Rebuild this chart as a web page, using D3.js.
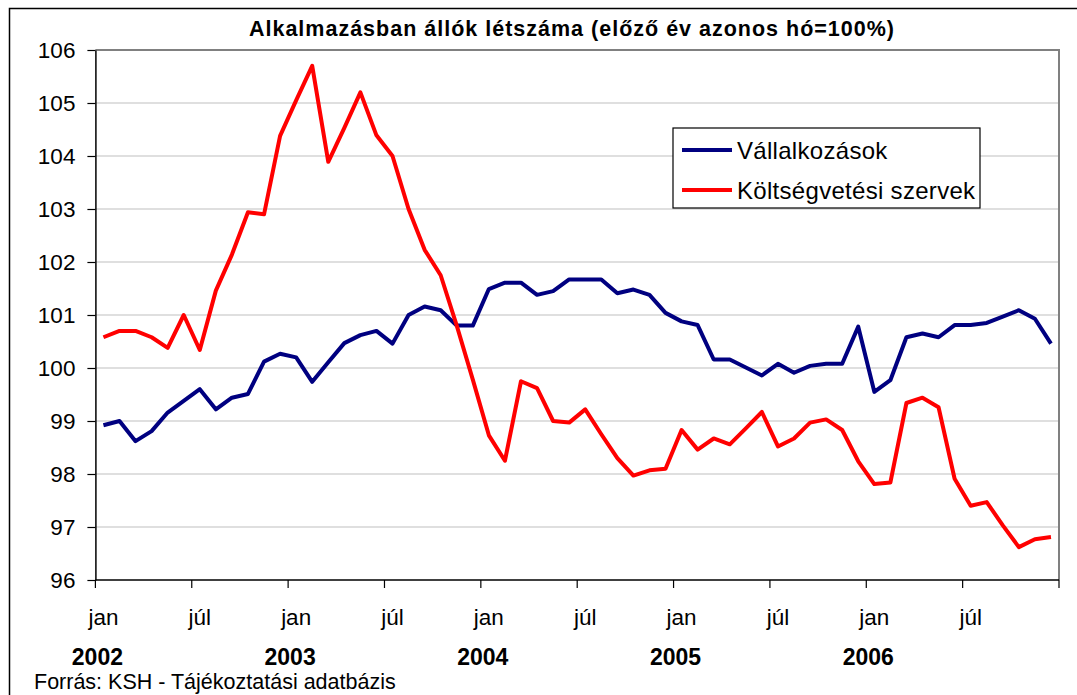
<!DOCTYPE html>
<html>
<head>
<meta charset="utf-8">
<script src="https://cdn.jsdelivr.net/npm/d3@7"></script>
<style>
  body { margin: 0; background: #fff; }
  svg { display: block; font-family: Arial, "Liberation Sans", sans-serif; }
</style>
</head>
<body>
<script>
// wrap everything in a self-executing function to keep vars local
(function(){

// chart data
var years = ["2002", "2003", "2004", "2005", "2006"];
var monthNames = ["jan","febr","márc","ápr","máj","jún","júl","aug","szept","okt","nov","dec"];
var tickNames = ["jan", "júl"]; // only these get a label under the axis
var seriesNames = ["Vállalkozások", "Költségvetési szervek"];

// Vállalkozások, 2002 jan .. 2006 dec
var vallalkozasok = [
  98.92, 99.00, 98.62, 98.81, 99.16, 99.38, 99.60, 99.22, 99.44, 99.51, 100.12, 100.27,
  100.20, 99.74, 100.11, 100.47, 100.62, 100.70, 100.46, 101.00, 101.16, 101.09, 100.80, 100.80,
  101.49, 101.61, 101.61, 101.38, 101.45, 101.67, 101.67, 101.67, 101.41, 101.48, 101.38, 101.04,
  100.88, 100.81, 100.16, 100.16, 100.01, 99.86, 100.08, 99.91, 100.04, 100.08, 100.08, 100.78,
  99.55, 99.77, 100.58, 100.65, 100.58, 100.81, 100.81, 100.85, 100.97, 101.09, 100.93, 100.46
];
// Költségvetési szervek, 2002 jan .. 2006 dec
var koltsegvetesi = [
  100.58, 100.70, 100.70, 100.58, 100.38, 101.00, 100.34, 101.46, 102.14, 102.94, 102.90, 104.38,
  105.05, 105.70, 103.89, 104.53, 105.20, 104.39, 104.00, 103.00, 102.23, 101.75, 100.80, 99.78,
  98.73, 98.25, 99.75, 99.62, 99.00, 98.97, 99.22, 98.75, 98.30, 97.97, 98.07, 98.10,
  98.83, 98.46, 98.67, 98.56, 98.86, 99.17, 98.52, 98.67, 98.97, 99.03, 98.83, 98.24,
  97.81, 97.84, 99.34, 99.44, 99.26, 97.91, 97.40, 97.47, 97.03, 96.62, 96.77, 96.81
];
var yTicks = [96, 97, 98, 99, 100, 101, 102, 103, 104, 105, 106];
var colors = ["#000080", "#ff0000"];

// build the month categories from years x months
var categories = [];
years.forEach(function(y){
  monthNames.forEach(function(m){ categories.push(y + " " + m); });
});

var width = 1077, height = 695;
var plot = {left: 95.4, right: 1059, top: 50, bottom: 580};

var svg = d3.select("body").append("svg")
  .attr("width", width)
  .attr("height", height);

svg.append("rect")
  .attr("width", width).attr("height", height)
  .attr("fill", "#fff");

// outer chart frame (runs off the right and bottom edge)
svg.append("rect")
  .attr("x", 9.5).attr("y", 8.5)
  .attr("width", 1100).attr("height", 720)
  .attr("fill", "none")
  .attr("stroke", "#000")
  .attr("stroke-width", 1.5);

// scales
var x = d3.scaleBand()
  .domain(categories)
  .range([plot.left, plot.right]);
var y = d3.scaleLinear()
  .domain([96, 106])
  .range([plot.bottom, plot.top]);

function cx(i){ return x(categories[i]) + x.bandwidth() / 2; }

// gridlines
svg.append("g").selectAll("line")
  .data(yTicks.slice(1))
  .enter().append("line")
  .attr("x1", plot.left).attr("x2", plot.right)
  .attr("y1", function(d){ return y(d); })
  .attr("y2", function(d){ return y(d); })
  .attr("stroke", "#c0c0c0")
  .attr("stroke-width", 1.2);

// plot border, gray top + right
svg.append("path")
  .attr("d", "M" + plot.left + "," + plot.top + "H" + plot.right + "V" + plot.bottom)
  .attr("fill", "none")
  .attr("stroke", "#808080")
  .attr("stroke-width", 2);

// y axis
var yAxis = svg.append("g")
  .attr("transform", "translate(" + plot.left + ",0)")
  .call(d3.axisLeft(y).tickValues(yTicks).tickSize(8).tickSizeOuter(0).tickPadding(12));
yAxis.select(".domain").attr("stroke", "#000").attr("stroke-width", 1.5);
yAxis.selectAll(".tick line").attr("stroke", "#000").attr("stroke-width", 1.2);
yAxis.selectAll(".tick text")
  .attr("font-size", 22.5)
  .attr("font-family", "Arial, 'Liberation Sans', sans-serif")
  .attr("fill", "#000");

// x axis: ticks on the boundary every 6 months
var boundaries = d3.range(0, categories.length + 1, 6);
svg.append("line")
  .attr("x1", plot.left).attr("x2", plot.right)
  .attr("y1", plot.bottom).attr("y2", plot.bottom)
  .attr("stroke", "#000").attr("stroke-width", 1.5);
svg.append("g").selectAll("line")
  .data(boundaries)
  .enter().append("line")
  .attr("x1", function(d){ return d < categories.length ? x(categories[d]) : plot.right; })
  .attr("x2", function(d){ return d < categories.length ? x(categories[d]) : plot.right; })
  .attr("y1", plot.bottom).attr("y2", plot.bottom + 8)
  .attr("stroke", "#000").attr("stroke-width", 1.2);

// month labels (jan / júl)
var labelled = categories.map(function(c, i){ return i; })
  .filter(function(i){ return tickNames.indexOf(monthNames[i % 12]) >= 0; });
svg.append("g").selectAll("text")
  .data(labelled)
  .enter().append("text")
  .attr("x", function(i){ return cx(i); })
  .attr("y", 625)
  .attr("text-anchor", "middle")
  .attr("font-size", 22.5)
  .text(function(i){ return monthNames[i % 12]; });

// year labels under january
svg.append("g").selectAll("text")
  .data(years)
  .enter().append("text")
  .attr("x", function(d){ return x(d + " jan") + 2; })
  .attr("y", 665)
  .attr("text-anchor", "middle")
  .attr("font-size", 23)
  .attr("font-weight", "bold")
  .text(function(d){ return d; });

// title
svg.append("text")
  .attr("x", 572).attr("y", 36)
  .attr("text-anchor", "middle")
  .attr("font-size", 21.5)
  .attr("letter-spacing", 1)
  .attr("font-weight", "bold")
  .text("Alkalmazásban állók létszáma (előző év azonos hó=100%)");

// source
svg.append("text")
  .attr("x", 34).attr("y", 689)
  .attr("font-size", 21.5)
  .text("Forrás: KSH - Tájékoztatási adatbázis");

// lines
var line = d3.line()
  .x(function(d, i){ return cx(i); })
  .y(function(d){ return y(d); });

var series = [vallalkozasok, koltsegvetesi];
svg.append("g").selectAll("path")
  .data(series)
  .enter().append("path")
  .attr("d", line)
  .attr("fill", "none")
  .attr("stroke", function(d, i){ return colors[i]; })
  .attr("stroke-width", 4)
  .attr("stroke-linejoin", "round");

// legend
var legend = svg.append("g").attr("transform", "translate(673,128)");
legend.append("rect")
  .attr("width", 307).attr("height", 80)
  .attr("fill", "#fff")
  .attr("stroke", "#000")
  .attr("stroke-width", 1.2);
var items = legend.selectAll(".item")
  .data(seriesNames)
  .enter().append("g")
  .attr("transform", function(d, i){ return "translate(0," + (22 + i * 40) + ")"; });
items.append("line")
  .attr("x1", 9).attr("x2", 59)
  .attr("stroke", function(d, i){ return colors[i]; })
  .attr("stroke-width", 4);
items.append("text")
  .attr("x", 64).attr("y", 8.5)
  .attr("font-size", 24)
  .attr("letter-spacing", 0.3)
  .text(function(d){ return d; });

})();
</script>
</body>
</html>
